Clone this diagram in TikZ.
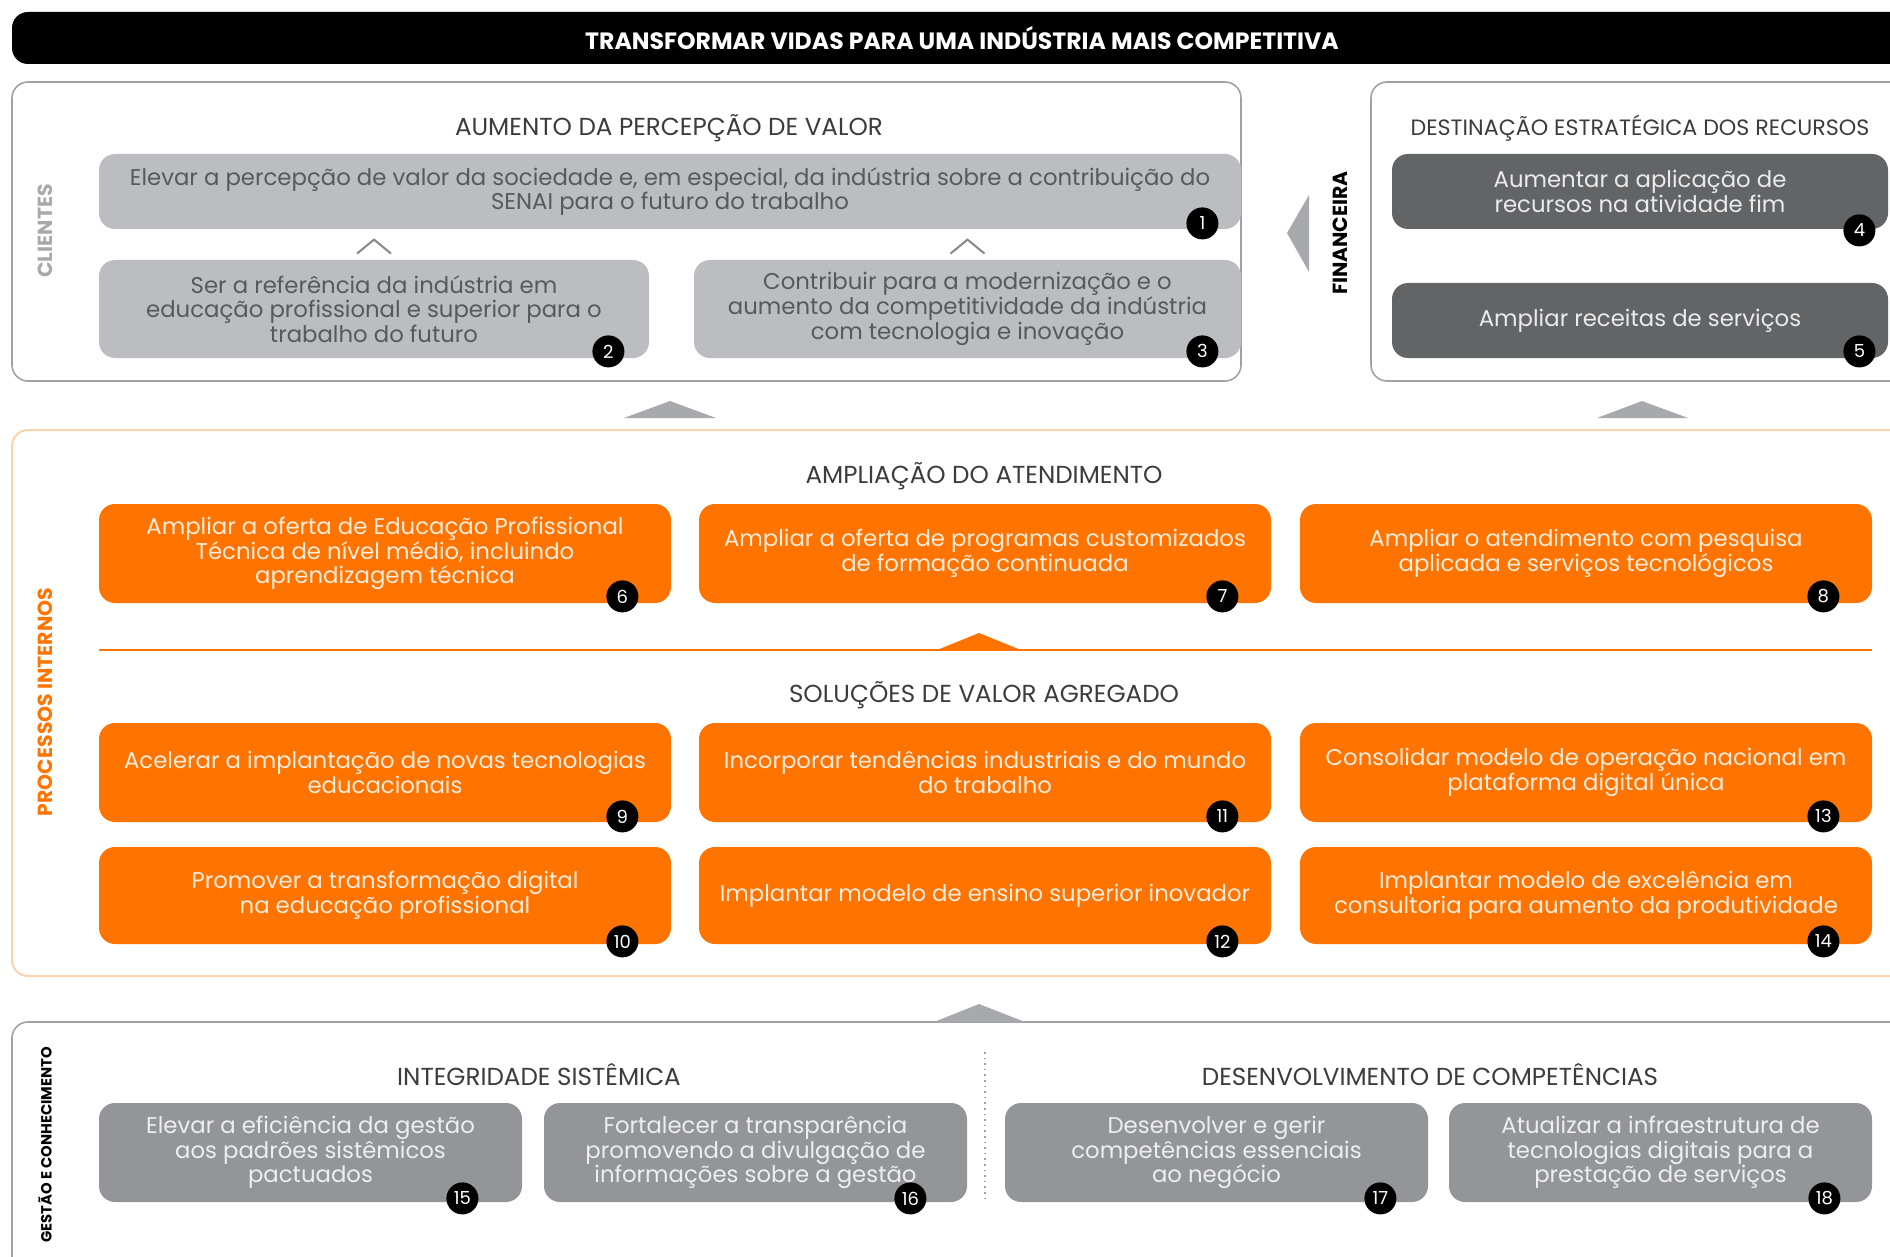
\documentclass[tikz,border=0pt]{standalone}
\usepackage{fontspec}
\setmainfont{Poppins}
\usetikzlibrary{positioning,calc}

\definecolor{senaiorange}{RGB}{255,116,0}
\definecolor{orangeline}{RGB}{253,210,175}
\definecolor{orangetext}{RGB}{255,236,220}
\definecolor{lightgrey}{RGB}{188,189,192}
\definecolor{lighttext}{RGB}{88,89,91}
\definecolor{darkgrey}{RGB}{99,100,102}
\definecolor{darktext}{RGB}{235,235,236}
\definecolor{midgrey}{RGB}{147,149,152}
\definecolor{midtext}{RGB}{238,238,239}
\definecolor{panelgrey}{RGB}{160,161,164}
\definecolor{arrowgrey}{RGB}{167,169,172}
\definecolor{headertext}{RGB}{60,60,62}

\begin{document}
\begin{tikzpicture}[x=0.5pt,y=-0.5pt]
  \useasboundingbox (0,0) rectangle (1890,1257);
  \clip (0,0) rectangle (1890,1257);

  % Stile.
  \tikzstyle{panel}=[draw=panelgrey, line width=0.8pt, rounded corners=8pt]
  \tikzstyle{goal}=[rounded corners=8pt, inner sep=0pt, align=center, font=\fontsize{11.4}{12.3}\selectfont]
  \tikzstyle{lightgoal}=[goal, fill=lightgrey, text=lighttext]
  \tikzstyle{darkgoal}=[goal, fill=darkgrey, text=darktext]
  \tikzstyle{orangegoal}=[goal, fill=senaiorange, text=orangetext]
  \tikzstyle{midgoal}=[goal, fill=midgrey, text=midtext]
  \tikzstyle{badge}=[circle, fill=black, text=white, minimum size=16pt, inner sep=0pt, font=\fontsize{9}{9}\selectfont]
  \tikzstyle{header}=[text=headertext, inner sep=0pt, font=\fontsize{12.3}{12.3}\selectfont]
  \tikzstyle{side}=[rotate=90, inner sep=0pt, font=\bfseries\fontsize{10.2}{10.2}\selectfont]

  % Titel.
  \node[fill=black, rounded corners=8pt, minimum width=950pt, minimum height=26pt,
        text=white, font=\bfseries\fontsize{11.8}{11.8}\selectfont] (bar) at (962,38)
        {TRANSFORMAR VIDAS PARA UMA INDÚSTRIA MAIS COMPETITIVA};

  % Rahmen.
  \draw[panel] (12,82) rectangle (1241,381);
  \draw[panel] (1371,82) rectangle (1920,381);
  \draw[panel, draw=orangeline, line width=1pt] (12,430) rectangle (1920,976);
  \draw[panel] (12,1022) rectangle (1920,1300);

  % Seitentitel.
  \node[side, text=arrowgrey] (clientes) at (45,231) {CLIENTES};
  \node[side, text=black] (financeira) at (1340,233) {FINANCEIRA};
  \node[side, text=senaiorange] (processos) at (45,702) {PROCESSOS INTERNOS};
  \node[side, text=black, font=\bfseries\fontsize{7.4}{7.4}\selectfont] (gestao) at (45,1145) {GESTÃO E CONHECIMENTO};

  % Kunden.
  \node[header] (h1) at (669,128) {AUMENTO DA PERCEPÇÃO DE VALOR};
  \node[lightgoal, minimum width=571pt, minimum height=37.5pt] (b1) at (670,191.5)
    {Elevar a percepção de valor da sociedade e, em especial, da indústria sobre a contribuição do\\SENAI para o futuro do trabalho};
  \node[lightgoal, minimum width=275pt, minimum height=49pt] (b2) at (374,309)
    {Ser a referência da indústria em\\educação profissional e superior para o\\trabalho do futuro};
  \node[lightgoal, minimum width=273.5pt, minimum height=49pt] (b3) at (967.5,309)
    {Contribuir para a modernização e o\\aumento da competitividade da indústria\\com tecnologia e inovação};
  \draw[arrowgrey!80!black, line width=1pt] ([shift={(-17,-6)}]b2.north) -- ([shift={(0,-20)}]b2.north) -- ([shift={(17,-6)}]b2.north);
  \draw[arrowgrey!80!black, line width=1pt] ([shift={(-17,-6)}]b3.north) -- ([shift={(0,-20)}]b3.north) -- ([shift={(17,-6)}]b3.north);

  % Finanzen.
  \node[header, font=\fontsize{11.1}{11.1}\selectfont] (h2) at (1640,128) {DESTINAÇÃO ESTRATÉGICA DOS RECURSOS};
  \node[darkgoal, minimum width=248pt, minimum height=37.5pt] (b4) at (1640,191.5)
    {Aumentar a aplicação de\\recursos na atividade fim};
  \node[darkgoal, minimum width=248pt, minimum height=37.5pt] (b5) at (1640,320.5)
    {Ampliar receitas de serviços};
  \fill[arrowgrey] (1287,233) -- (1309,195) -- (1309,272) -- cycle;

  % Pfeile zwischen den Ebenen.
  \fill[arrowgrey] (624,418) -- (670,401) -- (716,418) -- cycle;
  \fill[arrowgrey] (1597,418) -- (1642,401) -- (1688,418) -- cycle;
  \fill[arrowgrey] (934,1022) -- (979,1004) -- (1025,1022) -- cycle;

  % Prozesse.
  \node[header] (h3) at (984,476) {AMPLIAÇÃO DO ATENDIMENTO};
  \node[orangegoal, minimum width=286pt, minimum height=49.5pt] (b6) at (385,553.5)
    {Ampliar a oferta de Educação Profissional\\Técnica de nível médio, incluindo\\aprendizagem técnica};
  \node[orangegoal, minimum width=286pt, minimum height=49.5pt] (b7) at (985,553.5)
    {Ampliar a oferta de programas customizados\\de formação continuada};
  \node[orangegoal, minimum width=286pt, minimum height=49.5pt] (b8) at (1586,553.5)
    {Ampliar o atendimento com pesquisa\\aplicada e serviços tecnológicos};

  \draw[senaiorange, line width=1pt] (99,650) -- (1872,650);
  \fill[senaiorange] (937,650) -- (979,633) -- (1021,650) -- cycle;

  \node[header] (h4) at (984,695) {SOLUÇÕES DE VALOR AGREGADO};
  \node[orangegoal, minimum width=286pt, minimum height=49.5pt] (b9) at (385,772.5)
    {Acelerar a implantação de novas tecnologias\\educacionais};
  \node[orangegoal, minimum width=286pt, minimum height=49.5pt] (b11) at (985,772.5)
    {Incorporar tendências industriais e do mundo\\do trabalho};
  \node[orangegoal, minimum width=286pt, minimum height=49.5pt] (b13) at (1586,772.5)
    {Consolidar modelo de operação nacional em\\plataforma digital única};
  \node[orangegoal, minimum width=286pt, minimum height=48.5pt] (b10) at (385,895.5)
    {Promover a transformação digital\\na educação profissional};
  \node[orangegoal, minimum width=286pt, minimum height=48.5pt] (b12) at (985,895.5)
    {Implantar modelo de ensino superior inovador};
  \node[orangegoal, minimum width=286pt, minimum height=48.5pt] (b14) at (1586,895.5)
    {Implantar modelo de excelência em\\consultoria para aumento da produtividade};

  % Gestao.
  \node[header] (h5) at (539,1075) {INTEGRIDADE SISTÊMICA};
  \node[header] (h6) at (1430,1075) {DESENVOLVIMENTO DE COMPETÊNCIAS};
  \draw[panelgrey, dotted, line width=0.8pt] (985,1052) -- (985,1203);
  \node[midgoal, minimum width=211.5pt, minimum height=49.5pt] (b15) at (310.5,1152.5)
    {Elevar a eficiência da gestão\\aos padrões sistêmicos\\pactuados};
  \node[midgoal, minimum width=211.5pt, minimum height=49.5pt] (b16) at (755.5,1152.5)
    {Fortalecer a transparência\\promovendo a divulgação de\\informações sobre a gestão};
  \node[midgoal, minimum width=211.5pt, minimum height=49.5pt] (b17) at (1216.5,1152.5)
    {Desenvolver e gerir\\competências essenciais\\ao negócio};
  \node[midgoal, minimum width=211.5pt, minimum height=49.5pt] (b18) at (1660.5,1152.5)
    {Atualizar a infraestrutura de\\tecnologias digitais para a\\prestação de serviços};

  % Nummern.
  \node[badge] (n1) at ([shift={(-39,-6)}]b1.south east) {1};
  \node[badge] (n2) at ([shift={(-41,-7)}]b2.south east) {2};
  \node[badge] (n3) at ([shift={(-39,-7)}]b3.south east) {3};
  \node[badge] (n4) at ([shift={(-29,1)}]b4.south east) {4};
  \node[badge] (n5) at ([shift={(-29,-7)}]b5.south east) {5};
  \node[badge] (n6) at ([shift={(-49,-7)}]b6.south east) {6};
  \node[badge] (n7) at ([shift={(-49,-7)}]b7.south east) {7};
  \node[badge] (n8) at ([shift={(-49,-7)}]b8.south east) {8};
  \node[badge] (n9) at ([shift={(-49,-6)}]b9.south east) {9};
  \node[badge] (n11) at ([shift={(-49,-6)}]b11.south east) {11};
  \node[badge] (n13) at ([shift={(-49,-6)}]b13.south east) {13};
  \node[badge] (n10) at ([shift={(-49,-3)}]b10.south east) {10};
  \node[badge] (n12) at ([shift={(-49,-3)}]b12.south east) {12};
  \node[badge] (n14) at ([shift={(-49,-3)}]b14.south east) {14};
  \node[badge] (n15) at ([shift={(-60,-4)}]b15.south east) {15};
  \node[badge] (n16) at ([shift={(-57,-4)}]b16.south east) {16};
  \node[badge] (n17) at ([shift={(-48,-4)}]b17.south east) {17};
  \node[badge] (n18) at ([shift={(-48,-4)}]b18.south east) {18};
\end{tikzpicture}
\end{document}
